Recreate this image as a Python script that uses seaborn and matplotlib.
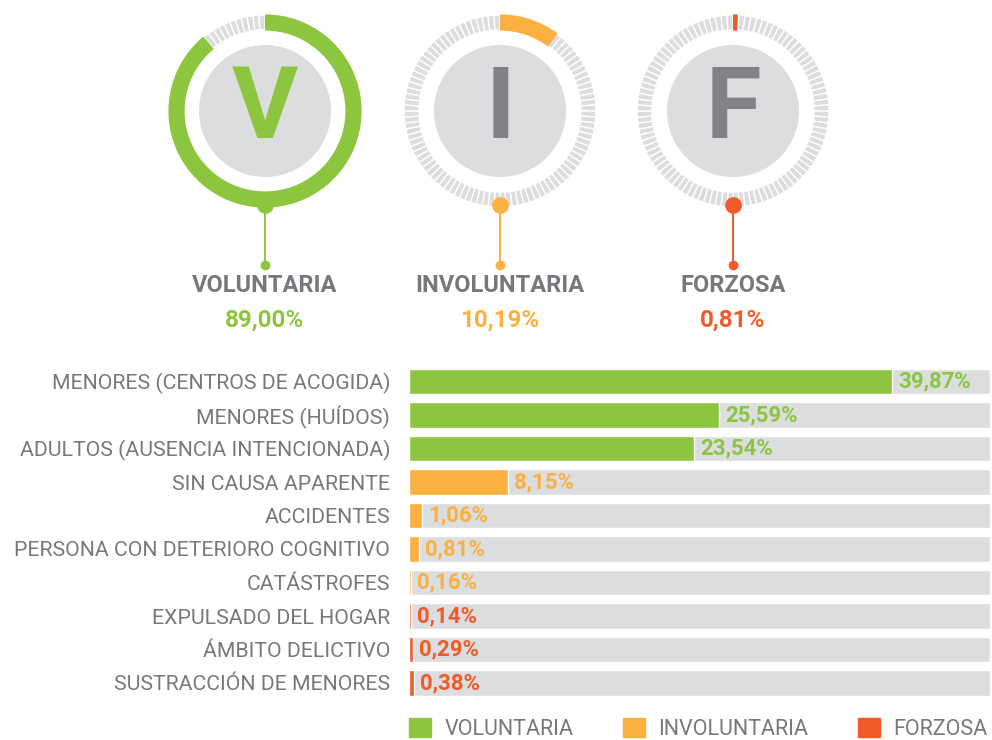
import pandas as pd
import seaborn as sns
import matplotlib.pyplot as plt
from matplotlib.patches import Patch

# gauge data
GAUGE_NAMES = ["VOLUNTARIA", "INVOLUNTARIA", "FORZOSA"]
GAUGE_LETTERS = ["V", "I", "F"]
GAUGE_VALUES = [89.00, 10.19, 0.81]

# bar data
BAR_LABELS = [
    "MENORES (CENTROS DE ACOGIDA)",
    "MENORES (HUÍDOS)",
    "ADULTOS (AUSENCIA INTENCIONADA)",
    "SIN CAUSA APARENTE",
    "ACCIDENTES",
    "PERSONA CON DETERIORO COGNITIVO",
    "CATÁSTROFES",
    "EXPULSADO DEL HOGAR",
    "ÁMBITO DELICTIVO",
    "SUSTRACCIÓN DE MENORES",
]
BAR_VALUES = [39.87, 25.59, 23.54, 8.15, 1.06, 0.81, 0.16, 0.14, 0.29, 0.38]
BAR_GROUPS = ["VOLUNTARIA"] * 3 + ["INVOLUNTARIA"] * 4 + ["FORZOSA"] * 3

AXIS_MAX = 48

GREEN = "#8cc63f"
ORANGE = "#fbb040"
RED = "#f15a29"
PALETTE = {"VOLUNTARIA": GREEN, "INVOLUNTARIA": ORANGE, "FORZOSA": RED}
LETTER_COLORS = [GREEN, "#808285", "#808285"]
TRACK = "#dcdddf"
TEXT_GREY = "#77787b"

sns.set_style("white")
plt.rcParams["font.family"] = ["Roboto", "DejaVu Sans"]

fig = plt.figure(figsize=(9.92, 7.40), dpi=100)

# ---- top gauges (axes in pixel units) ----
top = fig.add_axes([0, 0, 1, 1])
top.set_zorder(0)
H = 740
centers_x = [265, 500, 733]
cy = H - 111
R_OUT, RING_W, R_DISC = 96, 15, 66

for name, letter, val, cx, col, lcol in zip(GAUGE_NAMES, GAUGE_LETTERS, GAUGE_VALUES,
                                             centers_x, PALETTE.values(), LETTER_COLORS):
    # segmented grey track
    top.pie([1] * 100, center=(cx, cy), radius=R_OUT, startangle=90, counterclock=False,
            colors=[TRACK] * 100,
            wedgeprops=dict(width=RING_W, edgecolor="white", linewidth=1.0))
    # coloured arc
    top.pie([val, 100 - val], center=(cx, cy), radius=R_OUT + 0.6, startangle=90,
            counterclock=False, colors=[col, "none"],
            wedgeprops=dict(width=RING_W + 1.2, linewidth=0))
    # inner disc
    top.pie([1], center=(cx, cy), radius=R_DISC, colors=[TRACK], wedgeprops=dict(linewidth=0))
    top.text(cx, cy, letter, ha="center", va="center", fontsize=73, fontweight="bold",
             color=lcol)
    # connector
    top.plot([cx, cx], [cy - R_OUT + 2, H - 265], color=col, lw=1.4, solid_capstyle="butt")
    top.plot(cx, cy - R_OUT + 2, "o", ms=11, color=col)
    top.plot(cx, H - 265, "o", ms=6, color=col)
    top.text(cx, H - 285, name, ha="center", va="center", fontsize=17, fontweight="bold",
             color=TEXT_GREY)
    top.text(cx, H - 320, f"{val:.2f}".replace(".", ",") + "%", ha="center", va="center",
             fontsize=17.5, fontweight="bold", color=col)

top.set_xlim(0, 992)
top.set_ylim(0, H)
top.set_aspect("auto")
top.axis("off")

# ---- bar chart ----
df = pd.DataFrame({"causa": BAR_LABELS, "pct": BAR_VALUES, "tipo": BAR_GROUPS})
df["fondo"] = AXIS_MAX

ax = fig.add_axes([409 / 992, 1 - 699.75 / 740, 581 / 992, 335 / 740])
ax.set_zorder(1)
ax.patch.set_alpha(0)
sns.barplot(data=df, x="fondo", y="causa", color=TRACK, width=0.75, saturation=1, ax=ax)
sns.barplot(data=df, x="pct", y="causa", hue="tipo", palette=PALETTE, dodge=False,
            width=0.75, saturation=1, legend=False, ax=ax)

for i, (v, g) in enumerate(zip(BAR_VALUES, BAR_GROUPS)):
    ax.annotate(f"{v:.2f}".replace(".", ",") + "%", xy=(v, i), xytext=(4.5, 0),
                textcoords="offset points", ha="left", va="center", fontsize=16,
                fontweight="bold", color=PALETTE[g])

ax.set_xlim(0, AXIS_MAX)
ax.set_ylim(len(BAR_LABELS) - 0.5, -0.5)
ax.set_xlabel("")
ax.set_ylabel("")
ax.set_xticks([])
ax.tick_params(axis="y", length=0, pad=13.5, labelsize=15.3, labelcolor=TEXT_GREY)
sns.despine(ax=ax, left=True, bottom=True)

handles = [Patch(color=PALETTE[k]) for k in PALETTE]
fig.legend(handles, list(PALETTE), loc="upper left", bbox_to_anchor=(409 / 992, 1 - 718 / 740),
           ncol=3, frameon=False, fontsize=15.5, labelcolor=TEXT_GREY, borderpad=0,
           borderaxespad=0, handlelength=1.0, handleheight=1.0, handletextpad=0.65,
           columnspacing=2.3)

fig.savefig("out.png", dpi=100)
